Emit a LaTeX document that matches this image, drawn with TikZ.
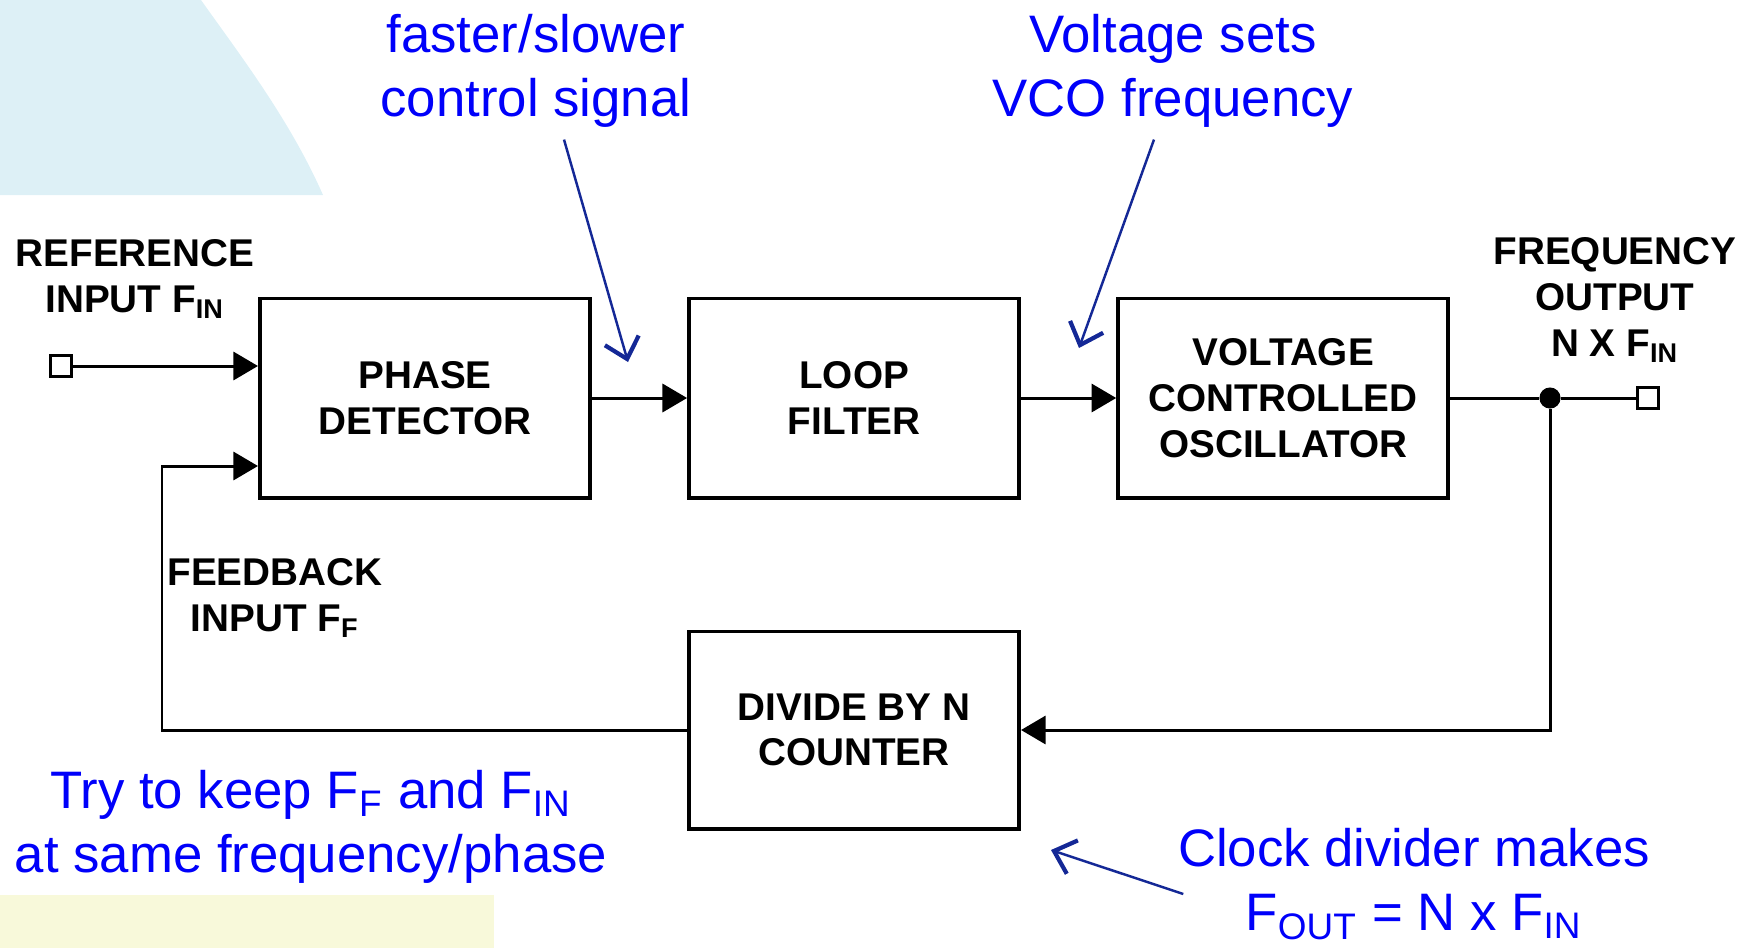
\documentclass[tikz,border=0pt]{standalone}
\usepackage{fontspec}
\setmainfont{Liberation Sans}
\usetikzlibrary{arrows.meta,positioning}
\definecolor{skyback}{RGB}{221,240,246}
\definecolor{creamback}{RGB}{248,249,218}
\definecolor{notetext}{RGB}{0,0,250}
\definecolor{notearrow}{RGB}{20,40,150}
\tikzset{
  block/.style={draw, line width=1.1pt, minimum width=3.30cm, minimum height=1.99cm,
    align=center, font=\fontsize{11}{13}\selectfont\bfseries},
  sig label/.style={align=center, inner sep=0pt, font=\fontsize{11}{13}\selectfont\bfseries},
  port/.style={draw, fill=white, line width=0.8pt, rectangle, minimum size=6pt, inner sep=0pt},
  junction/.style={circle, fill, minimum size=6pt, inner sep=0pt},
  wire/.style={line width=0.85pt},
  sig/.style={wire, -{Triangle[length=7pt,width=8pt]}},
  note/.style={anchor=north, inner sep=0pt, align=center, text=notetext,
    font=\fontsize{15}{18.2}\selectfont},
  note arrow/.style={draw=notearrow, line width=0.7pt,
    -{Straight Barb[length=5.5pt,width=10pt,line width=1.2pt]}},
}

\begin{document}
\begin{tikzpicture}[x=0.01cm, y=-0.01cm]
  \useasboundingbox (0,0) rectangle (1748,948);
  % backdrop
  \fill[skyback] (0,0) -- (201,0) .. controls (240,55) and (290,120) .. (323,195) -- (0,195) -- cycle;
  \fill[creamback] (0,895) rectangle (494,948);

  % blocks
  \node[block] (pd) at (425,398) {PHASE\\DETECTOR};
  \node[block, right=0.95cm of pd] (lf) {LOOP\\FILTER};
  \node[block, right=0.95cm of lf] (vco) {VOLTAGE\\CONTROLLED\\OSCILLATOR};
  \node[block, minimum height=1.97cm] (div) at (854,730) {DIVIDE BY N\\COUNTER};

  % ports
  \node[port] (fin) at (61,366) {};
  \node[port] (fout) at (1648,398) {};
  \node[junction] (tap) at (1550,398) {};
  \coordinate (fbturn) at (162,466);

  % loop
  \draw[sig] (fin) -- (fin -| pd.west);
  \draw[sig] (pd) -- (lf);
  \draw[sig] (lf) -- (vco);
  \draw[wire] (vco) -- (tap) -- (fout);
  \draw[sig] (tap) |- (div);
  \draw[sig] (div) -| (fbturn) -- (fbturn -| pd.west);

  % signal names
  \node[sig label] (reflbl) at (135,279) {REFERENCE\\INPUT F\textsubscript{IN}};
  \node[sig label] (outlbl) at (1615,300) {FREQUENCY\\OUTPUT\\N X F\textsubscript{IN}};
  \node[sig label] (fblbl) at (275,598) {FEEDBACK\\INPUT F\textsubscript{F}};

  % notes
  \node[note] (ctl) at (536,14) {faster/slower\\control signal};
  \node[note] (vcon) at (1173,14) {Voltage sets\\VCO frequency};
  \node[note] (keep) at (311,770) {Try to keep F\textsubscript{F} and F\textsubscript{IN}\\at same frequency/phase};
  \node[note] (clk) at (1414,828) {Clock divider makes\\F\textsubscript{OUT} = N x F\textsubscript{IN}};

  \coordinate (ctltip) at (628,362);
  \coordinate (vcotip) at (1079,348);
  \coordinate (clktip) at (1051,850);
  \draw[note arrow] ([shift={(28,11)}]ctl.south) -- (ctltip);
  \draw[note arrow] ([shift={(-19,11)}]vcon.south) -- (vcotip);
  \draw[note arrow] ([shift={(6,66)}]clk.north west) -- (clktip);
\end{tikzpicture}
\end{document}
